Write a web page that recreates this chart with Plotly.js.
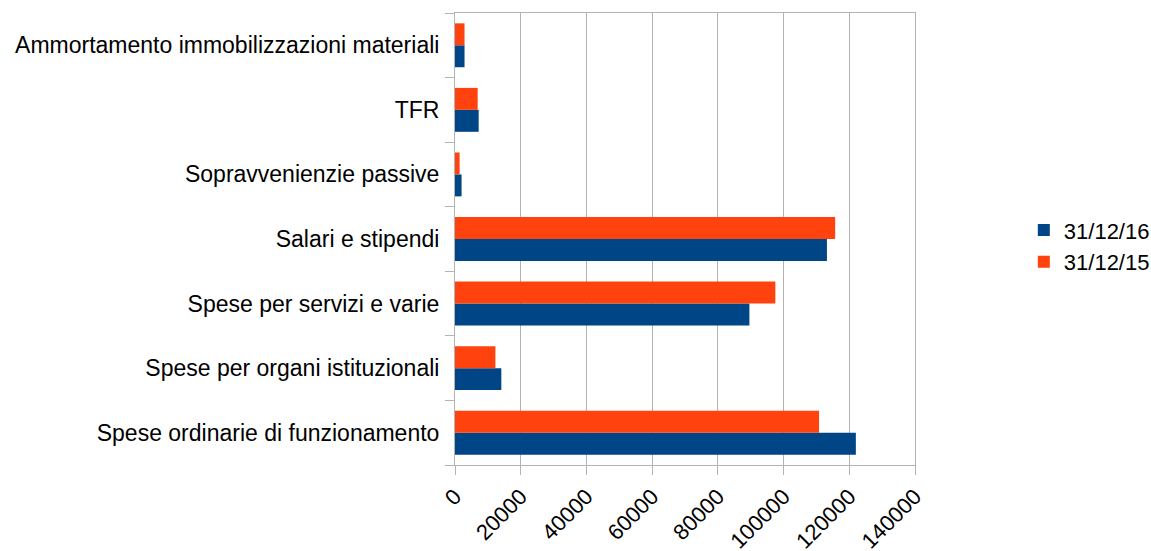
<!DOCTYPE html>
<html><head><meta charset="utf-8">
<script src="https://cdn.plot.ly/plotly-3.0.1.min.js"></script>
<style>html,body{margin:0;padding:0;background:#fff;}</style>
</head><body>
<div id="chart" style="width:1151px;height:551px;"></div>
<script>
const categories = [
  "Spese ordinarie di funzionamento",
  "Spese per organi istituzionali",
  "Spese per servizi e varie",
  "Salari e stipendi",
  "Sopravvenienzie passive",
  "TFR",
  "Ammortamento immobilizzazioni materiali"
];
const series16 = [122000, 14100, 89600, 113200, 2000, 7200, 2900];
const series15 = [110800, 12300, 97500, 115700, 1400, 6900, 2900];
const tickValues = [0, 20000, 40000, 60000, 80000, 100000, 120000, 140000];

const traces = [
  {type:'bar', orientation:'h', name:'31/12/16', y:categories, x:series16, marker:{color:'#004586'}},
  {type:'bar', orientation:'h', name:'31/12/15', y:categories, x:series15, marker:{color:'#ff420e'}}
];
const layout = {
  width:1151, height:551,
  margin:{l:455, r:236, t:13, b:86},
  barmode:'group', bargap:0.32, bargroupgap:0,
  font:{family:'"Liberation Sans", Arial, sans-serif', size:23, color:'#000'},
  paper_bgcolor:'#fff', plot_bgcolor:'#fff',
  xaxis:{range:[0,140000], tickvals:tickValues, ticktext:tickValues.map(String), tickangle:-45,
         automargin:false,
         showgrid:true, gridcolor:'#b3b3b3', gridwidth:1, zeroline:false,
         showline:true, linecolor:'#b3b3b3', mirror:true,
         ticks:'outside', ticklen:9, tickcolor:'#b3b3b3', tickfont:{size:22}},
  yaxis:{type:'category', automargin:false, showgrid:false, zeroline:false, showline:true, linecolor:'#b3b3b3', mirror:true,
         ticks:'outside', tickson:'boundaries', ticklen:9, tickcolor:'#b3b3b3', tickfont:{size:23},
         ticklabelstandoff:10},
  showlegend:true,
  legend:{xref:'container', yref:'container', x:0.8895, y:0.553, xanchor:'left', yanchor:'middle',
          traceorder:'normal', font:{size:22}, itemwidth:20}
};
Plotly.newPlot('chart', traces, layout, {displayModeBar:false, staticPlot:true});
</script>
</body></html>
